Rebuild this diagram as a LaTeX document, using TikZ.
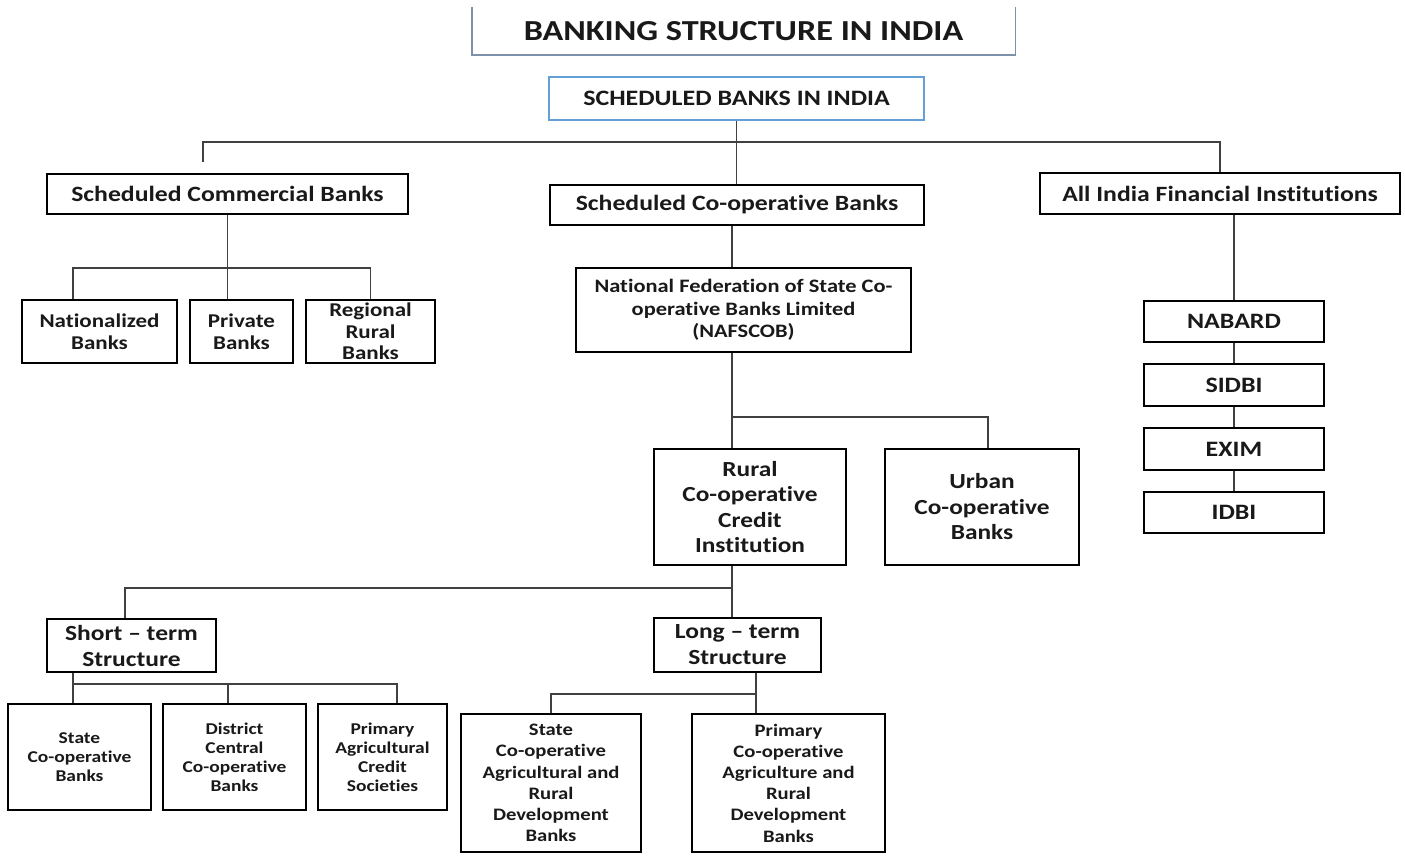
\documentclass[tikz,border=0pt]{standalone}
\usepackage{fontspec}
\setmainfont{Carlito}[FakeStretch=1.18,Ligatures={TeX,NoCommon}]
\newcommand{\boxsize}[2]{\fontsize{#1}{#2}\selectfont}
\definecolor{titleline}{RGB}{125,145,170}
\definecolor{headline}{RGB}{100,160,215}
\begin{document}
\begin{tikzpicture}[x=1pt,y=-1pt,
  box/.style={draw=black,line width=1.4pt,align=center,inner sep=0pt,font=\bfseries,text=black!90},
  link/.style={draw=black!75,line width=1.4pt}]
  \path[use as bounding box,fill=white] (0,0) rectangle (1405,861);
  \node[minimum width=543,minimum height=48,inner sep=0pt,font=\bfseries\boxsize{29}{32},text=black!90] (title) at (743.5,31) {BANKING STRUCTURE IN INDIA};
  \draw[line width=1.4pt,titleline] (title.north west) -- (title.south west) -- (title.south east) -- (title.north east);
  \node[box,draw=headline,minimum width=375,minimum height=43,font=\bfseries\boxsize{22}{25}] (sbi) at (736.5,98.5) {SCHEDULED BANKS IN INDIA};

  \node[box,minimum width=361,minimum height=40,font=\bfseries\boxsize{21.8}{25}] (scb) at (227.5,194) {Scheduled Commercial Banks};
  \node[box,minimum width=374,minimum height=40,font=\bfseries\boxsize{21.8}{25}] (scob) at (737,205) {Scheduled Co-operative Banks};
  \node[box,minimum width=360,minimum height=41,font=\bfseries\boxsize{21.8}{25}] (aifi) at (1220,193.5) {All India Financial Institutions};

  \node[box,minimum width=155,minimum height=63,font=\bfseries\boxsize{19.5}{22}] (nat) at (99.5,331.5) {Nationalized\\Banks};
  \node[box,minimum width=103,minimum height=63,font=\bfseries\boxsize{19.5}{22}] (priv) at (241.5,331.5) {Private\\Banks};
  \node[box,minimum width=129,minimum height=63,font=\bfseries\boxsize{19.5}{21.5}] (rrb) at (370.5,331.5) {Regional\\Rural\\Banks};

  \node[box,minimum width=335,minimum height=84,font=\bfseries\boxsize{19}{22.5}] (naf) at (743.5,310) {National Federation of State Co-\\operative Banks Limited\\(NAFSCOB)};
  \node[box,minimum width=192,minimum height=116,font=\bfseries\boxsize{21.5}{25.5}] (rural) at (750,507) {Rural\\Co-operative\\Credit\\Institution};
  \node[box,minimum width=194,minimum height=116,font=\bfseries\boxsize{21.5}{25.5}] (urban) at (982,507) {Urban\\Co-operative\\Banks};

  \node[box,minimum width=180,minimum height=41,font=\bfseries\boxsize{22}{24}] (nabard) at (1234,321.5) {NABARD};
  \node[box,minimum width=180,minimum height=42,font=\bfseries\boxsize{22}{24}] (sidbi) at (1234,385) {SIDBI};
  \node[box,minimum width=180,minimum height=42,font=\bfseries\boxsize{22}{24}] (exim) at (1234,449) {EXIM};
  \node[box,minimum width=180,minimum height=41,font=\bfseries\boxsize{22}{24}] (idbi) at (1234,512.5) {IDBI};

  \node[box,minimum width=169,minimum height=53,font=\bfseries\boxsize{21.6}{26}] (short) at (131.5,645.5) {Short – term\\Structure};
  \node[box,minimum width=167,minimum height=54,font=\bfseries\boxsize{21.6}{26}] (long) at (737.5,645) {Long – term\\Structure};

  \node[box,minimum width=143,minimum height=106,font=\bfseries\boxsize{16.5}{19}] (scbk) at (79.5,757) {State\\Co-operative\\Banks};
  \node[box,minimum width=143,minimum height=106,font=\bfseries\boxsize{16.5}{19}] (dccb) at (234.5,757) {District\\Central\\Co-operative\\Banks};
  \node[box,minimum width=129,minimum height=106,font=\bfseries\boxsize{16.5}{19}] (pacs) at (382.5,757) {Primary\\Agricultural\\Credit\\Societies};
  \node[box,minimum width=180,minimum height=138,font=\bfseries\boxsize{17.5}{21.2}] (scard) at (551,783) {State\\Co-operative\\Agricultural and\\Rural\\Development\\Banks};
  \node[box,minimum width=193,minimum height=138,font=\bfseries\boxsize{17.5}{21.2}] (pcard) at (788.5,783) {Primary\\Co-operative\\Agriculture and\\Rural\\Development\\Banks};

  \coordinate (topbus) at (736.5,142);
  \coordinate (scbstub) at (203,162);
  \draw[link] (sbi.south) -- (sbi.south |- scob.north);
  \draw[link] (scbstub) -- (scbstub |- topbus) -| (aifi.north);

  \coordinate (natdrop) at (73,268);
  \draw[link] (scb.south) -- (scb.south |- priv.north);
  \draw[link] (natdrop |- nat.north) -- (natdrop) -| (rrb.north);

  \coordinate (nafx) at (732,417);
  \coordinate (urbx) at (988,417);
  \draw[link] (nafx |- scob.south) -- (nafx |- naf.north);
  \draw[link] (nafx |- naf.south) -- (nafx |- rural.north);
  \draw[link] (nafx) -- (urbx) -- (urbx |- urban.north);

  \draw[link] (nabard.north |- aifi.south) -- (nabard);
  \draw[link] (nabard) -- (sidbi);
  \draw[link] (sidbi) -- (exim);
  \draw[link] (exim) -- (idbi);

  \coordinate (rcbus) at (732,588);
  \coordinate (shortx) at (125,588);
  \draw[link] (rcbus |- rural.south) -- (rcbus |- long.north);
  \draw[link] (rcbus) -- (shortx) -- (shortx |- short.north);

  \coordinate (stbus) at (73,684);
  \coordinate (dccbx) at (228,684);
  \coordinate (pacsx) at (397,684);
  \draw[link] (stbus |- short.south) -- (stbus |- scbk.north);
  \draw[link] (stbus) -- (pacsx) -- (pacsx |- pacs.north);
  \draw[link] (dccbx) -- (dccbx |- dccb.north);

  \coordinate (ltbus) at (756,694);
  \draw[link] (ltbus |- long.south) -- (ltbus |- pcard.north);
  \draw[link] (ltbus) -| (scard.north);
\end{tikzpicture}
\end{document}
